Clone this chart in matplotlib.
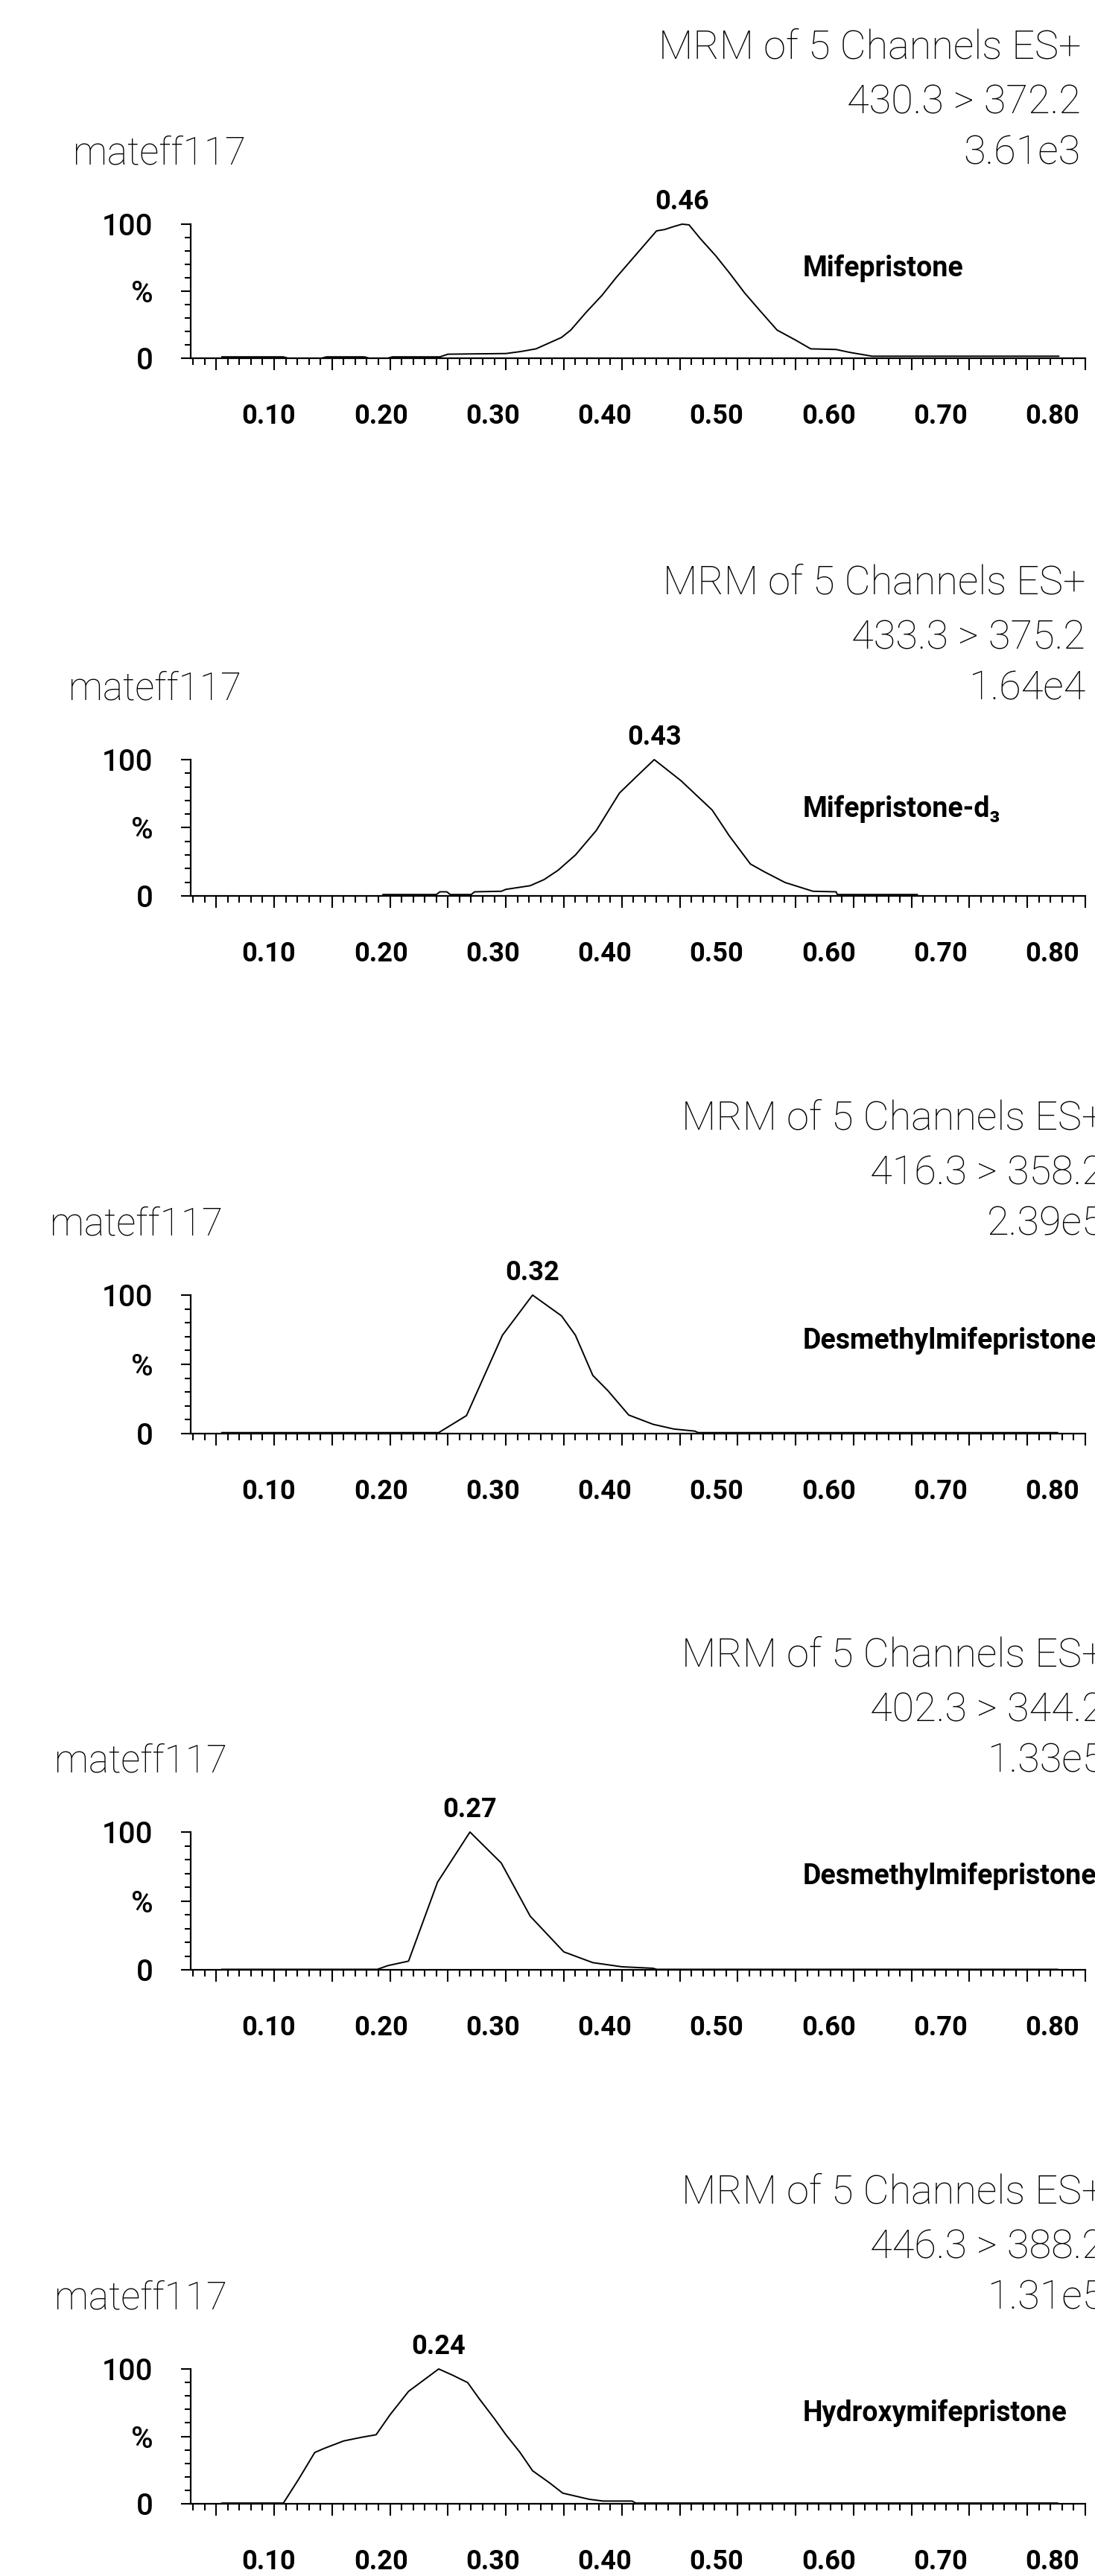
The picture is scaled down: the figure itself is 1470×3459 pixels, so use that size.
import matplotlib
matplotlib.use("Agg")
import matplotlib.pyplot as plt
from matplotlib.ticker import MultipleLocator, FixedLocator, FixedFormatter
import numpy as np

plt.rcParams['font.family'] = ['Roboto', 'DejaVu Sans']

sample = "mateff117"
header = "MRM of 5 Channels ES+"
transitions = ["430.3 > 372.2", "433.3 > 375.2", "416.3 > 358.2", "402.3 > 344.2", "446.3 > 388.2"]
intensities = ["3.61e3", "1.64e4", "2.39e5", "1.33e5", "1.31e5"]
compounds = ["Mifepristone", "Mifepristone-d\u2083", "Desmethylmifepristone",
             "Desmethylmifepristone", "Hydroxymifepristone"]
peak_labels = ["0.46", "0.43", "0.32", "0.27", "0.24"]
xtick_values = [0.10, 0.20, 0.30, 0.40, 0.50, 0.60, 0.70, 0.80]
ytick_labels = ["0", "%", "100"]

# retention time (min) / relative intensity (%)
rt_1 = [0.055, 0.108, 0.112, 0.141, 0.145, 0.178, 0.182, 0.198, 0.202, 0.243, 0.250, 0.300,
        0.313, 0.326, 0.348, 0.356, 0.369, 0.383, 0.395, 0.408, 0.421, 0.430, 0.437, 0.444,
        0.452, 0.458, 0.468, 0.481, 0.493, 0.506, 0.519, 0.534, 0.550, 0.563, 0.585, 0.597,
        0.616, 0.777]
pct_1 = [1, 1, 0, 0, 1, 1, 0, 0, 1, 1, 3, 3.5,
         5, 7, 15.5, 21, 34, 47, 60, 73, 86, 95, 96, 98,
         100, 99.5, 89, 76.5, 63.5, 48.7, 35.7, 21, 13.5, 7, 6.5, 4.3,
         1.5, 1.5]

rt_2 = [0.194, 0.240, 0.243, 0.249, 0.252, 0.270, 0.273, 0.296, 0.300, 0.321, 0.333, 0.345,
        0.360, 0.378, 0.398, 0.412, 0.428, 0.451, 0.478, 0.493, 0.511, 0.523, 0.541, 0.565,
        0.585, 0.586, 0.655]
pct_2 = [1, 1, 3, 3, 1, 1, 3, 3.4, 4.8, 7.5, 12, 18.8,
         30, 48, 75.5, 87, 100, 84.6, 63, 43.8, 23.4, 17.7, 9.8, 3.4,
         3, 1, 1]

rt_3 = [0.055, 0.242, 0.266, 0.297, 0.323, 0.348, 0.360, 0.375, 0.388, 0.406, 0.427, 0.445,
        0.463, 0.466, 0.776]
pct_3 = [0.7, 0.7, 13, 71, 100, 85, 71, 42, 31, 13.4, 6.7, 3.3,
         1.8, 0.7, 0.7]

rt_4 = [0.055, 0.189, 0.198, 0.216, 0.241, 0.269, 0.296, 0.321, 0.350, 0.375, 0.400, 0.427,
        0.430, 0.776]
pct_4 = [0.3, 0.3, 3, 6.3, 63.6, 100, 77.5, 38.9, 13, 5.2, 2.2, 1.1,
         0.3, 0.3]

rt_5 = [0.055, 0.108, 0.121, 0.135, 0.143, 0.160, 0.176, 0.188, 0.200, 0.216, 0.232, 0.242,
        0.254, 0.267, 0.277, 0.290, 0.300, 0.312, 0.323, 0.338, 0.349, 0.361, 0.372, 0.384,
        0.409, 0.412, 0.776]
pct_5 = [0.5, 0.5, 18, 38, 41, 46.6, 49.4, 51.2, 66, 83.4, 93.6, 100,
         95.4, 89.9, 77.9, 63.2, 51.2, 38.3, 24.5, 15.3, 7.9, 5.5, 3.3, 2,
         2, 0.5, 0.5]

traces = [(rt_1, pct_1), (rt_2, pct_2), (rt_3, pct_3), (rt_4, pct_4), (rt_5, pct_5)]

# layout (pixels in a 1470 x 3459 canvas)
W, H = 1470, 3459
ax_left, ax_right = 256, 1457
base_px = [481, 1203, 1925, 2645, 3362]
top_px = [301, 1020, 1739, 2460, 3181]
header_dx = [-6, 0, 25, 25, 25]
sample_dx = [-158, -164, -189, -183, -183]
compound_y = [67, 64, 67, 68, 67]

x_lo, x_hi = 0.028, 0.80


# tick labels in the source sit on a slightly compressed scale
def to_label(x):
    return 0.1 + (x - 0.0955) / 0.9657


def from_label(v):
    return 0.0955 + (v - 0.1) * 0.9657


fig = plt.figure(figsize=(W / 100, H / 100), dpi=100)

for i, (rt, pct) in enumerate(traces):
    ax = fig.add_axes([ax_left / W, 1 - base_px[i] / H,
                       (ax_right - ax_left) / W, (base_px[i] - top_px[i]) / H])
    ax.plot(rt, pct, color="black", lw=1.4, clip_on=False)
    ax.set_xlim(x_lo, x_hi)
    ax.set_ylim(0, 100)
    for s in ["top", "right"]:
        ax.spines[s].set_visible(False)
    for s in ["left", "bottom"]:
        ax.spines[s].set_linewidth(1.6)

    ax.xaxis.set_major_locator(MultipleLocator(0.05))
    ax.xaxis.set_minor_locator(MultipleLocator(0.01))
    ax.tick_params(axis="x", which="major", length=11.5, width=1.5, labelbottom=False)
    ax.tick_params(axis="x", which="minor", length=6.5, width=1.5)

    ax.yaxis.set_major_locator(FixedLocator([0, 50, 100]))
    ax.yaxis.set_major_formatter(FixedFormatter(ytick_labels))
    ax.yaxis.set_minor_locator(MultipleLocator(10))
    ax.tick_params(axis="y", which="major", length=9.5, width=1.5, pad=27,
                   labelsize=29)
    ax.tick_params(axis="y", which="minor", length=5.8, width=1.5)
    for lab in ax.get_yticklabels():
        lab.set_fontweight("medium")

    sec = ax.secondary_xaxis("bottom", functions=(to_label, from_label))
    sec.set_xticks(xtick_values)
    sec.set_xticklabels([f"{v:.2f}" for v in xtick_values], fontsize=26, fontweight="bold")
    sec.tick_params(length=0, pad=43)
    sec.spines["bottom"].set_visible(False)

    # header block
    lines = [header, transitions[i], intensities[i]]
    for dy, txt in zip([237, 163, 95], lines):
        ax.annotate(txt, xy=(1, 1), xycoords="axes fraction",
                    xytext=(header_dx[i], dy), textcoords="offset pixels",
                    ha="right", va="center", fontsize=39, fontweight="light",
                    color="black", annotation_clip=False)
    ax.annotate(sample, xy=(0, 1), xycoords="axes fraction",
                xytext=(sample_dx[i], 95), textcoords="offset pixels",
                ha="left", va="center", fontsize=37, fontweight="light",
                color="black", annotation_clip=False)

    # peak apex label
    k = int(np.argmax(pct))
    ax.annotate(peak_labels[i], xy=(rt[k], 100), xytext=(0, 30),
                textcoords="offset pixels", ha="center", va="center",
                fontsize=26, fontweight="bold", annotation_clip=False)

    ax.text(0.556, compound_y[i], compounds[i], ha="left", va="center",
            fontsize=27, fontweight="bold", clip_on=False)

fig.savefig("out.png", dpi=100, facecolor="white")
